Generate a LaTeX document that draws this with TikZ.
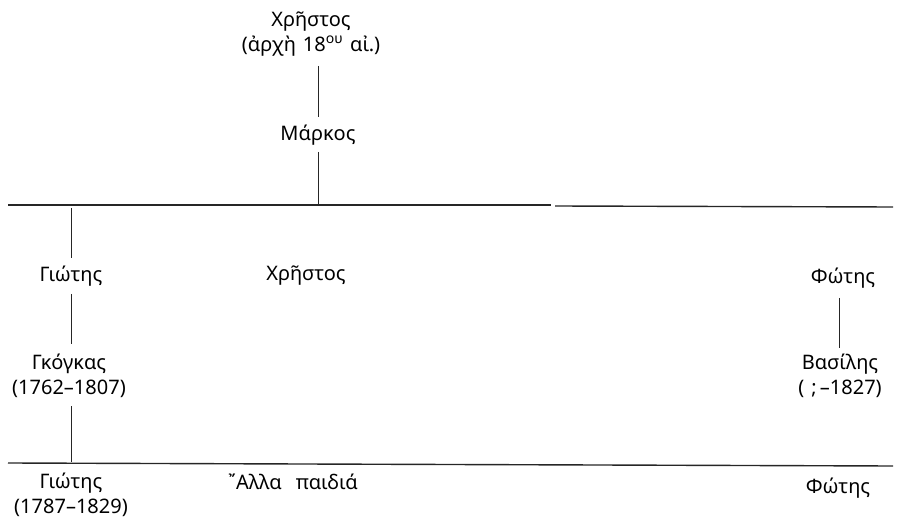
\documentclass[tikz,border=0pt]{standalone}
\usepackage{fontspec}
\setmainfont[WordSpace=1.35]{Noto Sans}
\begin{document}
\begin{tikzpicture}[x=1pt,y=-1pt,
  person/.style={font=\fontsize{20}{24.5}\selectfont, inner sep=2pt, align=center},
  link/.style={line width=0.9pt, black!85},
  bar/.style={line width=1.4pt, black!85}]
\useasboundingbox (0,0) rectangle (897,521);
% generation 1
\node[person] (top) at (311,34) {Χρῆστος\\(ἀρχὴ 18\textsuperscript{ου} αἰ.)};
\node[person] (marcos) at (318,135) {Μάρκος};
\coordinate (b1L) at (8,205);
\coordinate (b1M) at (551,205);
\coordinate (b1N) at (555,206);
\coordinate (b1R) at (893,207);
\coordinate (m1) at (318,205);
% generation 3
\node[person] (giotis1) at (71,276) {Γιώτης};
\node[person] (christos2) at (306,276) {Χρῆστος};
\node[person] (fotis1) at (843,278) {Φώτης};
% generation 4
\node[person] (gkogkas) at (69,376) {Γκόγκας\\(1762–1807)};
\node[person] (vasilis) at (840,376) {Βασίλης\\(\ ;\,–1827)};
% bottom bar
\coordinate (b2L) at (8,463);
\coordinate (b2R) at (893,466);
\node[person] (giotis2) at (71,495) {Γιώτης\\(1787–1829)};
\node[person] (alla) at (293,482) {῎Αλλα \ παιδιά};
\node[person] (fotis2) at (838,488) {Φώτης};
% bars
\draw[bar] (b1L) -- (b1M);
\draw[bar] (b1N) -- (b1R);
\draw[bar] (b2L) -- (b2R);
% links
\draw[link] (marcos.north |- 0,66) -- (marcos.north |- 0,117);
\draw[link] (marcos.south |- 0,152) -- (m1);
\draw[link] (giotis1.north |- 0,208) -- (giotis1.north |- 0,258);
\draw[link] (giotis1.south |- 0,294) -- (giotis1.south |- 0,344);
\draw[link] (giotis1.south |- 0,406) -- (giotis1.south |- 0,462);
\draw[link] (839,298) -- (839,348);
\end{tikzpicture}
\end{document}
